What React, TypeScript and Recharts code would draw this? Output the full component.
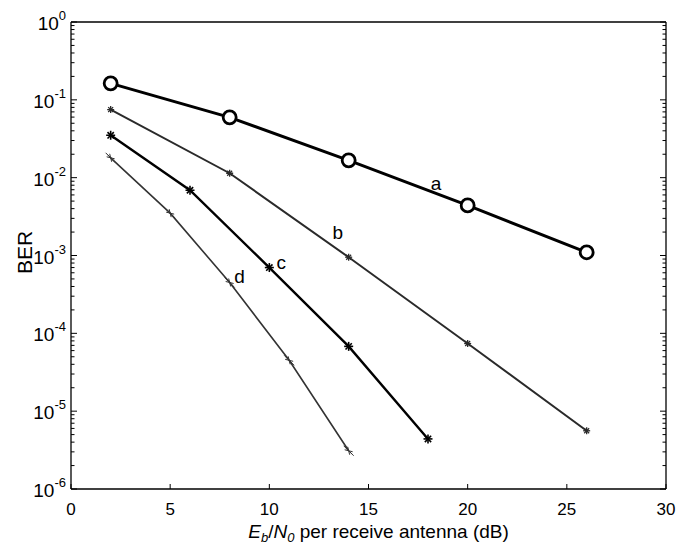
import React from 'react'
import { LineChart, Line, XAxis, YAxis, ReferenceDot } from 'recharts'

// Eb/N0 (dB) and BER
const SNR_A = [2, 8, 14, 20, 26]
const BER_A = [0.163, 0.0596, 0.0167, 0.0044, 0.0011]
const SNR_B = [2, 8, 14, 20, 26]
const BER_B = [0.075, 0.0114, 0.00095, 7.4e-5, 5.6e-6]
const SNR_C = [2, 6, 10, 14, 18]
const BER_C = [0.035, 0.0069, 7.0e-4, 6.8e-5, 4.4e-6]
const SNR_D = [2, 5, 8, 11, 14]
const BER_D = [0.018, 0.0035, 4.5e-4, 4.5e-5, 3.1e-6]

// curve letters placed next to each line
const CURVE_NAMES = ['a', 'b', 'c', 'd']
const NAME_SNR = [18.4, 13.45, 10.6, 8.5]
const NAME_BER = [0.0084, 0.002, 8.1e-4, 5.4e-4]

const X_TICKS = [0, 5, 10, 15, 20, 25, 30]
const DECADES = [-6, -5, -4, -3, -2, -1]

const toRows = (xs: number[], ys: number[]) => xs.map((snr, i) => ({ snr, ber: ys[i] }))

const dataA = toRows(SNR_A, BER_A)
const dataB = toRows(SNR_B, BER_B)
const dataC = toRows(SNR_C, BER_C)
const dataD = toRows(SNR_D, BER_D)

const yTicks: number[] = []
DECADES.forEach((e) => {
  for (let m = 1; m <= 9; m++) yTicks.push(m * Math.pow(10, e))
})
yTicks.push(1)

const isMajor = (v: number) => {
  const lg = Math.log10(v)
  return Math.abs(lg - Math.round(lg)) < 1e-6
}

function LeftTick(props: any) {
  const { x, y, payload } = props
  const major = isMajor(payload.value)
  return (
    <g>
      <line x1={x} x2={x + (major ? 6 : 3.5)} y1={y} y2={y} stroke="#000" strokeWidth={1} />
      {major && (
        <text x={x - 5} y={y + 8} textAnchor="end" fontSize={19} fill="#000">
          <tspan>10</tspan>
          <tspan dy={-10} fontSize={13}>{String(Math.round(Math.log10(payload.value)))}</tspan>
        </text>
      )}
    </g>
  )
}

function RightTick(props: any) {
  const { x, y, payload } = props
  const major = isMajor(payload.value)
  return <line x1={x} x2={x - (major ? 6 : 3.5)} y1={y} y2={y} stroke="#000" strokeWidth={1} />
}

function BottomTick(props: any) {
  const { x, y, payload } = props
  return (
    <g>
      <line x1={x} x2={x} y1={y} y2={y - 5} stroke="#000" strokeWidth={1} />
      <text x={x} y={y + 26} textAnchor="middle" fontSize={17} fill="#000">
        {payload.value}
      </text>
    </g>
  )
}

function TopTick(props: any) {
  const { x, y } = props
  return <line x1={x} x2={x} y1={y} y2={y + 5} stroke="#000" strokeWidth={1} />
}

function Circle(p: any) {
  return <circle key={p.index} cx={p.cx} cy={p.cy} r={6.5} fill="#fff" stroke="#000" strokeWidth={2.8} />
}

function Star(p: any, s: number, w: number, color: string) {
  const { cx, cy } = p
  const d = s * 0.7
  return (
    <g key={p.index} stroke={color} strokeWidth={w}>
      <line x1={cx - s} x2={cx + s} y1={cy} y2={cy} />
      <line x1={cx} x2={cx} y1={cy - s} y2={cy + s} />
      <line x1={cx - d} x2={cx + d} y1={cy - d} y2={cy + d} />
      <line x1={cx - d} x2={cx + d} y1={cy + d} y2={cy - d} />
    </g>
  )
}

function Hash(p: any) {
  const { cx, cy } = p
  return (
    <g key={p.index} stroke="#333" strokeWidth={1}>
      <line x1={cx - 5} x2={cx + 3} y1={cy - 5} y2={cy + 3} />
      <line x1={cx - 3} x2={cx + 5} y1={cy - 3} y2={cy + 5} />
      <line x1={cx - 4} x2={cx + 4} y1={cy - 1} y2={cy + 1} />
      <line x1={cx - 1} x2={cx + 1} y1={cy - 4} y2={cy + 4} />
    </g>
  )
}

function XTitle(props: any) {
  const { viewBox } = props
  const cx = viewBox.x + viewBox.width / 2 + 10
  const cy = viewBox.y + 49
  return (
    <text x={cx} y={cy} textAnchor="middle" fontSize={19} fill="#000">
      <tspan fontStyle="italic">E</tspan>
      <tspan fontStyle="italic" fontSize={13} dy={4}>b</tspan>
      <tspan dy={-4}>/</tspan>
      <tspan fontStyle="italic">N</tspan>
      <tspan fontSize={13} fontStyle="italic" dy={4}>0</tspan>
      <tspan dy={-4}> per receive antenna (dB)</tspan>
    </text>
  )
}

function YTitle(props: any) {
  const { viewBox } = props
  const cx = 32
  const cy = viewBox.y + viewBox.height / 2 - 3
  return (
    <text x={cx} y={cy} textAnchor="middle" fontSize={21} fill="#000" transform={`rotate(-90 ${cx} ${cy})`}>
      BER
    </text>
  )
}

export default function App() {
  return (
    <div style={{ position: 'absolute', left: 0, top: 0, background: '#fff', fontFamily: "'Liberation Sans', Arial, sans-serif" }}>
      <LineChart width={679} height={547} margin={{ top: 0, right: 0, bottom: 0, left: 0 }}>
        <XAxis
          dataKey="snr"
          type="number"
          domain={[0, 30]}
          ticks={X_TICKS}
          interval={0}
          height={58}
          tickSize={0}
          tickMargin={0}
          tickLine={false}
          axisLine={{ stroke: '#000', strokeWidth: 1.3 }}
          tick={<BottomTick />}
          label={<XTitle />}
        />
        <XAxis
          xAxisId="top"
          orientation="top"
          type="number"
          domain={[0, 30]}
          ticks={X_TICKS}
          interval={0}
          height={22}
          tickSize={0}
          tickMargin={0}
          tickLine={false}
          axisLine={{ stroke: '#000', strokeWidth: 1.3 }}
          tick={<TopTick />}
        />
        <YAxis
          type="number"
          scale="log"
          domain={[1e-6, 1]}
          allowDataOverflow
          ticks={yTicks}
          interval={0}
          width={71}
          tickSize={0}
          tickMargin={0}
          tickLine={false}
          axisLine={{ stroke: '#000', strokeWidth: 1.3 }}
          tick={<LeftTick />}
          label={<YTitle />}
        />
        <YAxis
          yAxisId="right"
          orientation="right"
          type="number"
          scale="log"
          domain={[1e-6, 1]}
          allowDataOverflow
          ticks={yTicks}
          interval={0}
          width={13}
          tickSize={0}
          tickMargin={0}
          tickLine={false}
          axisLine={{ stroke: '#000', strokeWidth: 1.3 }}
          tick={<RightTick />}
        />
        <Line data={dataD} dataKey="ber" type="linear" stroke="#333" strokeWidth={1.6} dot={Hash} isAnimationActive={false} />
        <Line data={dataC} dataKey="ber" type="linear" stroke="#000" strokeWidth={2.4} dot={(p: any) => Star(p, 4.5, 1.6, '#000')} isAnimationActive={false} />
        <Line data={dataB} dataKey="ber" type="linear" stroke="#2a2a2a" strokeWidth={2} dot={(p: any) => Star(p, 3.5, 1.3, '#2a2a2a')} isAnimationActive={false} />
        <Line data={dataA} dataKey="ber" type="linear" stroke="#000" strokeWidth={3} dot={Circle} isAnimationActive={false} />
        {CURVE_NAMES.map((n, i) => (
          <ReferenceDot
            key={n}
            x={NAME_SNR[i]}
            y={NAME_BER[i]}
            r={0}
            fill="none"
            stroke="none"
            label={{ value: n, position: 'center', fontSize: 19, fill: '#000' }}
          />
        ))}
      </LineChart>
    </div>
  )
}
